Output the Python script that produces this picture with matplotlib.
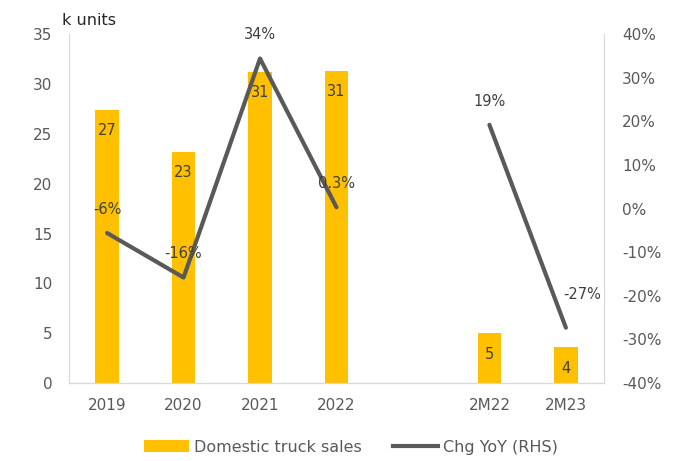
import matplotlib
matplotlib.use("Agg")
import matplotlib.pyplot as plt
import numpy as np
from matplotlib.patches import Patch
from matplotlib.lines import Line2D

YELLOW = "#FFC000"; LINEC = "#595959"; TXT = "#404040"; SPINE = "#D9D9D9"

categories = ["2019", "2020", "2021", "2022", "", "2M22", "2M23"]
sales = [27.4, 23.2, 31.2, 31.3, np.nan, 5.0, 3.6]
sales_labels = ["27", "23", "31", "31", "", "5", "4"]
yoy = [-5.6, -15.8, 34.4, 0.3, np.nan, 19.2, -27.3]
yoy_labels = ["-6%", "-16%", "34%", "0.3%", "", "19%", "-27%"]
left_ticks = [0, 5, 10, 15, 20, 25, 30, 35]
right_ticks = [-40, -30, -20, -10, 0, 10, 20, 30, 40]

plt.rcParams["font.family"] = ["DejaVu Sans"]

fig = plt.figure(figsize=(6.75, 4.61), dpi=100)
ax = fig.add_axes([0.102, 0.169, 0.793, 0.757])
ax2 = ax.twinx()

x = np.arange(len(categories))
ax.bar(x, sales, width=0.31, color=YELLOW, zorder=2)
for i, (v, lab) in enumerate(zip(sales, sales_labels)):
    if lab:
        ax.annotate(lab, xy=(i, v), xytext=(0, -15), textcoords="offset points",
                    ha="center", va="center", color=TXT, fontsize=10.5)

# la serie YoY se corta en el hueco entre 2022 y 2M22
ax2.plot(x, yoy, color=LINEC, linewidth=3, solid_capstyle="round", zorder=3)
offs = [(0, 17), (0, 17), (0, 17), (0, 17), (0, 0), (0, 17), (12, 24)]
for i, (v, lab) in enumerate(zip(yoy, yoy_labels)):
    if lab:
        ax2.annotate(lab, xy=(i, v), xytext=offs[i], textcoords="offset points",
                     ha="center", va="center", color=TXT, fontsize=10.5)

ax.set_xlim(-0.5, 6.5)
ax.set_ylim(0, 35)
ax2.set_ylim(-40, 40)
ax.set_xticks(x)
ax.set_xticklabels(categories)
ax.set_yticks(left_ticks)
ax2.set_yticks(right_ticks)
ax2.set_yticklabels([f"{t}%" for t in right_ticks])

for a in (ax, ax2):
    for s in a.spines.values():
        s.set_color(SPINE)
    a.spines["top"].set_visible(False)
    a.tick_params(colors=SPINE, labelcolor="#595959", labelsize=11, length=0)
ax.spines["bottom"].set_color("#BFBFBF")
ax.tick_params(axis="y", pad=12)
ax.tick_params(axis="x", pad=11)
ax2.tick_params(axis="y", pad=13)

fig.text(0.092, 0.955, "k units", color="#262626", fontsize=11.5, ha="left", va="center")

handles = [Patch(facecolor=YELLOW, label="Domestic truck sales"),
           Line2D([0], [0], color=LINEC, linewidth=3, label="Chg YoY (RHS)")]
fig.legend(handles=handles, loc="center", bbox_to_anchor=(0.52, 0.03), ncol=2,
           frameon=False, fontsize=11.5, labelcolor="#595959", handlelength=2.8,
           handleheight=0.7, handletextpad=0.3, columnspacing=2.0)

fig.savefig("out.png", dpi=100, facecolor="white")
